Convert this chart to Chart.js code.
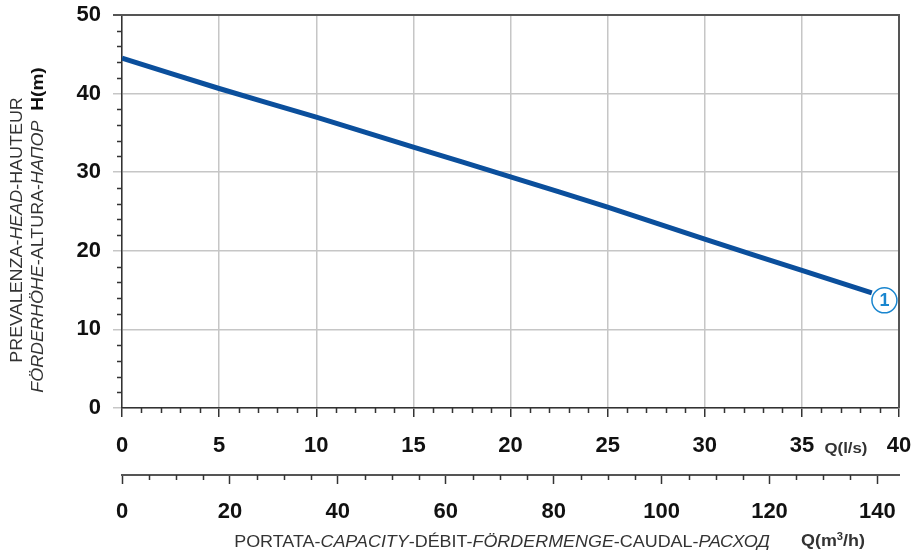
<!DOCTYPE html>
<html>
<head>
<meta charset="utf-8">
<script src="https://cdn.jsdelivr.net/npm/chart.js@4.4.1/dist/chart.umd.min.js"></script>
<style>
  html, body { margin: 0; padding: 0; background: #fff; }
</style>
</head>
<body>
<canvas id="chart" width="913" height="556"></canvas>
<script>
// curve 1 : head vs flow
const flowLs = [0, 5, 10, 15, 20, 25, 30, 35, 38.6];
const headM  = [44.5, 40.65, 37.0, 33.2, 29.4, 25.55, 21.5, 17.5, 14.65];
// curve number badge
const badgeQ = [39.25];
const badgeH = [13.7];
const badgeText = '1';

// axes
const qLsMax = 40;
const qM3hMax = 144;   // 40 l/s = 144 m3/h
const qM3hTicks = [0, 20, 40, 60, 80, 100, 120, 140];
const hMax = 50;

const FONT = '"Liberation Sans", Arial, sans-serif';
const DARK = '#333';
const GRID = '#c6c6c6';
const BLUE = '#0b4f9c';
const BADGE = '#1a86cf';
const STRETCH = 1.12;

// draw a string made of runs with different font styles, centred on x
function drawRuns(ctx, runs, x, y, size) {
    let total = 0;
    runs.forEach(r => {
        ctx.font = (r.s || '') + ' ' + (r.size || size) + 'px ' + FONT;
        r.w = ctx.measureText(r.t).width;
        total += r.w;
    });
    ctx.save();
    ctx.translate(x - total * STRETCH / 2, y);
    ctx.scale(STRETCH, 1);
    let cx = 0;
    runs.forEach(r => {
        ctx.font = (r.s || '') + ' ' + (r.size || size) + 'px ' + FONT;
        ctx.fillStyle = r.c || DARK;
        ctx.fillText(r.t, cx, r.dy || 0);
        cx += r.w;
    });
    ctx.restore();
}

function noPad(s) {
    s.paddingLeft = 0; s.paddingRight = 0; s.paddingTop = 0; s.paddingBottom = 0;
}

const decorPlugin = {
    id: 'decor',
    afterDraw(chart) {
        const ctx = chart.ctx;
        const x = chart.scales.x, y = chart.scales.y, x2 = chart.scales.x2;
        const a = chart.chartArea;
        ctx.save();
        ctx.strokeStyle = DARK;
        ctx.lineWidth = 1.5;

        // minor ticks
        ctx.beginPath();
        for (let v = 2; v < hMax; v += 2) {
            if (v % 10 === 0) continue;
            const py = Math.round(y.getPixelForValue(v)) + 0.5;
            ctx.moveTo(a.left - 5, py); ctx.lineTo(a.left, py);
        }
        for (let v = 1; v < qLsMax; v++) {
            if (v % 5 === 0) continue;
            const px = Math.round(x.getPixelForValue(v)) + 0.5;
            ctx.moveTo(px, a.bottom); ctx.lineTo(px, a.bottom + 5);
        }
        for (let v = 5; v < qM3hMax; v += 5) {
            if (v % 20 === 0) continue;
            const px = Math.round(x2.getPixelForValue(v)) + 0.5;
            ctx.moveTo(px, x2.top); ctx.lineTo(px, x2.top + 5);
        }
        ctx.stroke();

        // frame top / right
        ctx.strokeStyle = '#555';
        ctx.lineWidth = 2;
        ctx.beginPath();
        ctx.moveTo(a.left - 9, a.top); ctx.lineTo(a.right, a.top); ctx.lineTo(a.right, a.bottom);
        ctx.stroke();

        // badge number
        const bx = x.getPixelForValue(badgeQ[0]);
        const by = y.getPixelForValue(badgeH[0]);
        ctx.fillStyle = BADGE;
        ctx.font = 'bold 18px ' + FONT;
        ctx.textAlign = 'center';
        ctx.textBaseline = 'middle';
        ctx.fillText(badgeText, bx, by + 1);

        // unit labels
        ctx.textAlign = 'left';
        ctx.textBaseline = 'alphabetic';
        drawRuns(ctx, [{ t: 'Q(l/s)', s: 'bold' }], 846, 453, 15);
        drawRuns(ctx, [
            { t: 'Q(m', s: 'bold' }, { t: '3', s: 'bold', size: 10, dy: -6 }, { t: '/h)', s: 'bold' }
        ], 833, 546, 16);

        // axis titles
        drawRuns(ctx, [
            { t: 'PORTATA-' }, { t: 'CAPACITY', s: 'italic' }, { t: '-DÉBIT-' },
            { t: 'FÖRDERMENGE', s: 'italic' }, { t: '-CAUDAL-' }, { t: 'РАСХОД', s: 'italic' }
        ], 502, 547, 16);

        ctx.translate(22, 230);
        ctx.rotate(-Math.PI / 2);
        drawRuns(ctx, [
            { t: 'PREVALENZA-' }, { t: 'HEAD', s: 'italic' }, { t: '-HAUTEUR' }
        ], 0, 0, 16);
        ctx.translate(0, 21);
        drawRuns(ctx, [
            { t: 'FÖRDERHÖHE', s: 'italic' }, { t: '-ALTURA-' }, { t: 'НАПОР', s: 'italic' },
            { t: '  ' }, { t: 'H(m)', s: 'bold', size: 17, c: '#111' }
        ], 0, 0, 16);
        ctx.restore();
    }
};

const tickFont = { family: FONT, size: 22, weight: 'bold' };

new Chart(document.getElementById('chart'), {
    type: 'line',
    data: {
        datasets: [
            {
                data: badgeQ.map((q, i) => ({ x: q, y: badgeH[i] })),
                showLine: false,
                pointRadius: 12.5,
                pointBackgroundColor: '#fff',
                pointBorderColor: BADGE,
                pointBorderWidth: 1.5,
                order: 0
            },
            {
                data: flowLs.map((q, i) => ({ x: q, y: headM[i] })),
                borderColor: BLUE,
                borderWidth: 5,
                pointRadius: 0,
                tension: 0.3,
                fill: false,
                order: 1
            }
        ]
    },
    options: {
        responsive: false,
        animation: false,
        layout: { padding: { top: 15, right: 11, left: 0, bottom: 0 } },
        plugins: { legend: { display: false }, tooltip: { enabled: false } },
        scales: {
            x: {
                type: 'linear', position: 'bottom', min: 0, max: qLsMax, weight: 0,
                ticks: { stepSize: 5, font: tickFont, color: '#111', padding: 16, maxRotation: 0, autoSkip: false },
                grid: { color: GRID, lineWidth: 1.5, tickLength: 9, tickColor: DARK, tickWidth: 1.5 },
                border: { display: true, color: DARK, width: 1.5 },
                afterFit(s) { s.height = 67; noPad(s); }
            },
            x2: {
                type: 'linear', position: 'bottom', min: 0, max: qM3hMax, weight: 1,
                ticks: { font: tickFont, color: '#111', padding: 15, maxRotation: 0, autoSkip: false },
                afterBuildTicks(s) { s.ticks = qM3hTicks.map(v => ({ value: v })); },
                grid: { drawOnChartArea: false, tickLength: 9, tickColor: DARK, tickWidth: 1.5 },
                border: { display: true, color: '#555', width: 2 },
                afterFit(s) { s.height = 81; noPad(s); }
            },
            y: {
                min: 0, max: hMax,
                ticks: { stepSize: 10, font: tickFont, color: '#111', padding: 12 },
                grid: { color: GRID, lineWidth: 1.5, tickLength: 9 },
                border: { display: true, color: DARK, width: 1.5 },
                afterFit(s) { s.width = 122; noPad(s); }
            }
        }
    },
    plugins: [decorPlugin]
});
</script>
</body>
</html>
